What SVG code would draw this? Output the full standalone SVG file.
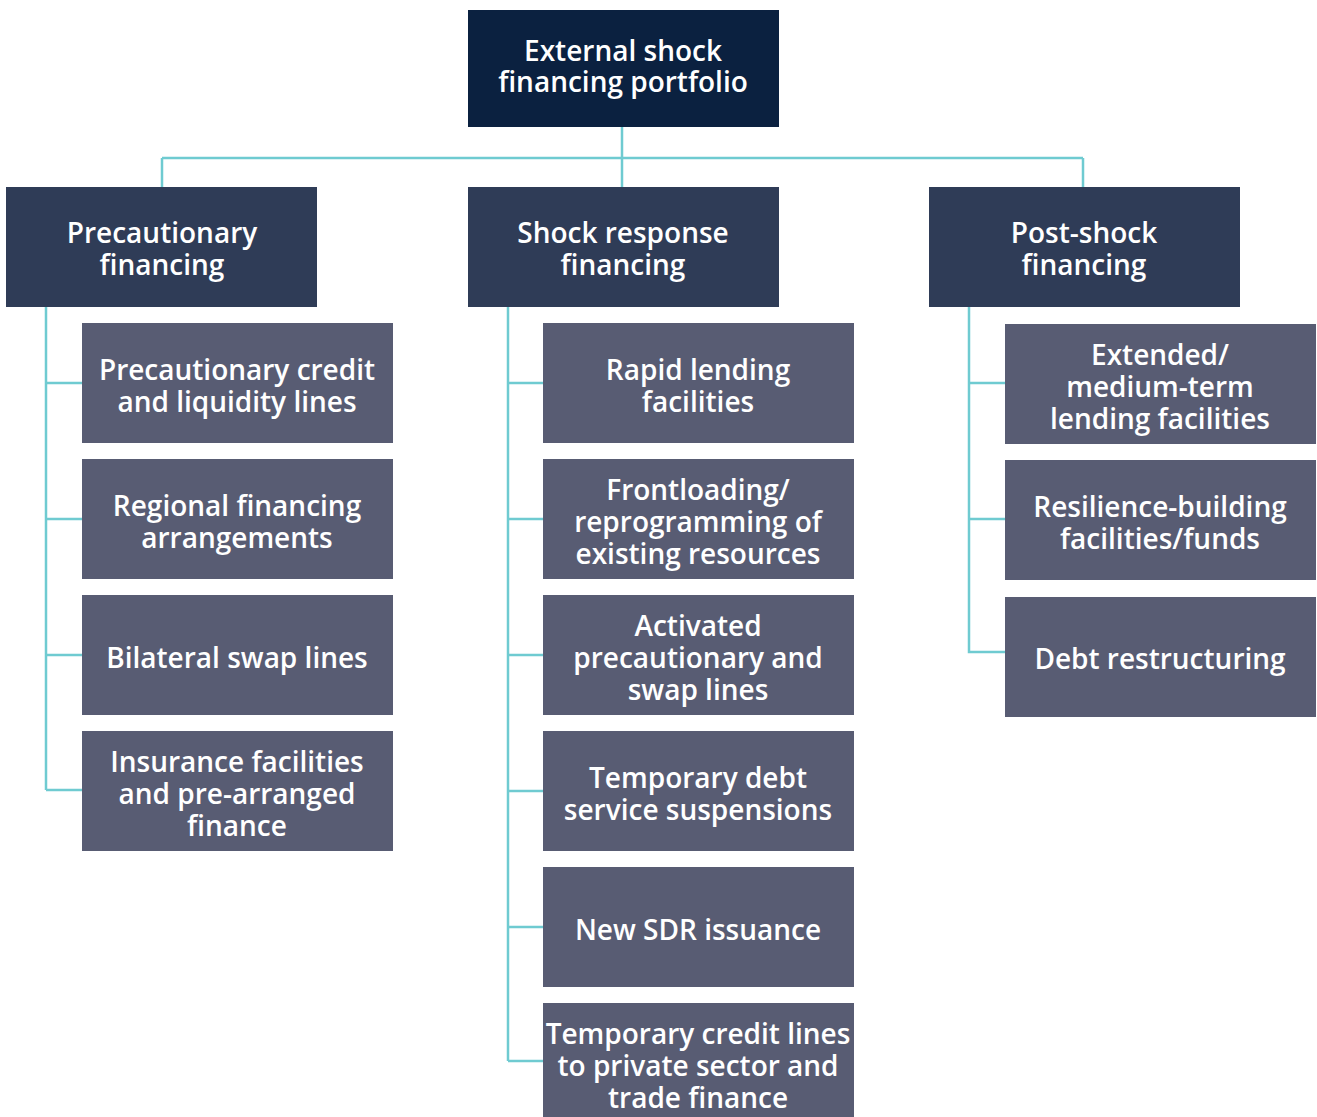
<svg xmlns="http://www.w3.org/2000/svg" width="1317" height="1117" viewBox="0 0 1317 1117">
<style>
.root{fill:#0b2140}
.l1{fill:#2f3c57}
.l2{fill:#585c73}
text{font-family:"Open Sans","DejaVu Sans",sans-serif;font-weight:600;font-size:28px;fill:#ffffff;text-anchor:middle}
.c{fill:none;stroke:#6fcbd1;stroke-width:2.5}
</style>
<rect width="1317" height="1117" fill="#ffffff"/>
<g id="connectors">
<path class="c" d="M622 127V187M162 158H1083M162 158V187M1083 158V187"/>
<path class="c" d="M46 307V790M46 383H82M46 519H82M46 655H82M46 790H82"/>
<path class="c" d="M508 307V1061M508 383H543M508 519H543M508 655H543M508 791H543M508 927H543M508 1061H543"/>
<path class="c" d="M969 307V652H1005M969 383H1005M969 519H1005"/>
</g>
<g id="root"><rect class="root" x="468" y="10" width="311" height="117"/><text x="623" y="61">External shock</text><text x="623" y="92">financing portfolio</text></g>
<g id="precautionary"><rect class="l1" x="6" y="187" width="311" height="120"/><text x="162" y="243">Precautionary</text><text x="162" y="275">financing</text></g>
<g id="shock"><rect class="l1" x="468" y="187" width="311" height="120"/><text x="623" y="243">Shock response</text><text x="623" y="275">financing</text></g>
<g id="postshock"><rect class="l1" x="929" y="187" width="311" height="120"/><text x="1084" y="243">Post-shock</text><text x="1084" y="275">financing</text></g>
<g id="p1"><rect class="l2" x="82" y="323" width="311" height="120"/><text x="237" y="380">Precautionary credit</text><text x="237" y="412">and liquidity lines</text></g>
<g id="p2"><rect class="l2" x="82" y="459" width="311" height="120"/><text x="237" y="516">Regional financing</text><text x="237" y="548">arrangements</text></g>
<g id="p3"><rect class="l2" x="82" y="595" width="311" height="120"/><text x="237" y="668">Bilateral swap lines</text></g>
<g id="p4"><rect class="l2" x="82" y="731" width="311" height="120"/><text x="237" y="772">Insurance facilities</text><text x="237" y="804">and pre-arranged</text><text x="237" y="836">finance</text></g>
<g id="s1"><rect class="l2" x="543" y="323" width="311" height="120"/><text x="698" y="380">Rapid lending</text><text x="698" y="412">facilities</text></g>
<g id="s2"><rect class="l2" x="543" y="459" width="311" height="120"/><text x="698" y="500">Frontloading/</text><text x="698" y="532">reprogramming of</text><text x="698" y="564">existing resources</text></g>
<g id="s3"><rect class="l2" x="543" y="595" width="311" height="120"/><text x="698" y="636">Activated</text><text x="698" y="668">precautionary and</text><text x="698" y="700">swap lines</text></g>
<g id="s4"><rect class="l2" x="543" y="731" width="311" height="120"/><text x="698" y="788">Temporary debt</text><text x="698" y="820">service suspensions</text></g>
<g id="s5"><rect class="l2" x="543" y="867" width="311" height="120"/><text x="698" y="940">New SDR issuance</text></g>
<g id="s6"><rect class="l2" x="543" y="1003" width="311" height="114"/><text x="698" y="1044">Temporary credit lines</text><text x="698" y="1076">to private sector and</text><text x="698" y="1108">trade finance</text></g>
<g id="r1"><rect class="l2" x="1005" y="324" width="311" height="120"/><text x="1160" y="365">Extended/</text><text x="1160" y="397">medium-term</text><text x="1160" y="429">lending facilities</text></g>
<g id="r2"><rect class="l2" x="1005" y="460" width="311" height="120"/><text x="1160" y="517">Resilience-building</text><text x="1160" y="549">facilities/funds</text></g>
<g id="r3"><rect class="l2" x="1005" y="597" width="311" height="120"/><text x="1160" y="669">Debt restructuring</text></g>
</svg>
